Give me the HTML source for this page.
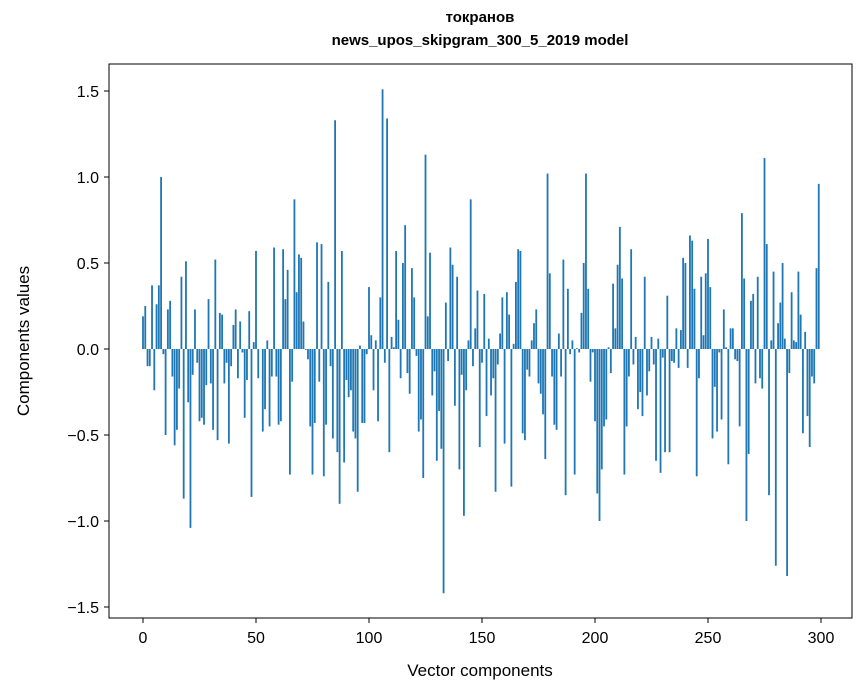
<!DOCTYPE html>
<html><head><meta charset="utf-8"><style>
body{margin:0;background:#fff}
svg{display:block;font-family:"Liberation Sans","DejaVu Sans",sans-serif}
</style></head><body>
<svg id="chart" width="867" height="696">
<rect width="867" height="696" fill="#fff"/>
<text x="480" y="28" text-anchor="middle" font-size="15" font-weight="bold" transform="translate(0,-6)">токранов</text>
<text x="480" y="51" text-anchor="middle" font-size="15" font-weight="bold" transform="translate(0,-6)">news_upos_skipgram_300_5_2019 model</text>
<g id="bars"></g>
<g id="axes"></g>
<rect x="109" y="64" width="743" height="554" fill="none" stroke="#000" stroke-width="1"/>
<text x="480" y="676" text-anchor="middle" font-size="17">Vector components</text>
<text transform="translate(29,341) rotate(-90)" text-anchor="middle" font-size="17">Components values</text>
</svg>
<script>
const values = [0.19,0.25,-0.1,-0.1,0.37,-0.24,0.26,0.37,1.0,-0.03,-0.5,0.23,0.28,-0.16,-0.56,-0.47,-0.23,
0.42,-0.87,0.51,-0.31,-1.04,-0.15,0.23,-0.08,-0.42,-0.4,-0.44,-0.21,0.29,-0.2,-0.47,0.52,-0.53,0.21,0.2,-0.2,-0.08,-0.55,-0.1,0.14,0.23,-0.17,0.16,-0.02,-0.4,-0.18,0.22,
-0.86,0.04,0.57,-0.17,0.0,-0.48,-0.35,0.05,-0.45,-0.16,0.59,-0.16,-0.44,-0.42,0.58,0.29,0.46,-0.73,-0.19,0.87,0.33,0.55,0.53,0.16,-0.005,-0.06,-0.45,-0.73,-0.43,0.62,-0.19,0.61,-0.74,-0.44,0.39,-0.1,-0.52,1.33,-0.6,-0.9,0.57,-0.66,-0.18,-0.28,-0.24,-0.48,-0.52,-0.83,0.02,-0.43,
-0.43,-0.03,0.36,0.08,-0.24,0.05,-0.42,0.3,1.51,-0.08,1.34,-0.6,0.07,0.01,0.57,0.17,-0.17,0.5,0.72,-0.14,-0.26,0.47,0.3,-0.04,-0.48,-0.41,-0.75,1.13,0.19,0.56,-0.27,-0.13,-0.65,-0.36,-0.58,-1.42,0.27,-0.07,0.59,0.49,-0.33,0.42,-0.7,-0.15,-0.97,-0.24,0.05,0.87,-0.1,0.12,0.34,-0.57,-0.08,
0.32,-0.39,0.06,-0.27,-0.17,-0.83,-0.09,0.09,0.3,-0.55,0.33,0.2,-0.8,0.03,0.39,0.58,0.57,-0.49,-0.53,-0.12,-0.16,0.05,0.15,0.23,-0.2,-0.26,-0.38,-0.64,1.02,0.44,-0.16,-0.44,-0.47,0.09,-0.16,0.52,-0.85,0.35,-0.03,0.05,-0.73,0.005,-0.02,0.21,0.5,1.02,0.35,
-0.19,-0.02,-0.42,-0.84,-1.0,-0.7,-0.45,-0.41,0.01,-0.14,0.38,0.12,0.49,0.71,0.41,-0.73,-0.45,-0.16,0.58,-0.09,0.07,-0.35,-0.25,-0.39,0.42,-0.27,-0.13,0.07,-0.09,-0.65,0.06,-0.72,-0.05,-0.6,0.31,-0.6,-0.07,-0.08,0.12,-0.11,0.11,0.53,0.5,-0.11,0.66,0.63,0.35,-0.74,-0.17,0.42,
0.08,0.44,0.64,0.36,-0.52,-0.22,-0.48,-0.02,-0.41,0.23,0.01,-0.67,0.12,0.12,-0.06,-0.07,-0.45,0.79,0.41,-1.0,-0.61,0.28,0.32,-0.2,0.42,-0.17,-0.23,1.11,0.61,-0.85,0.05,0.45,-1.26,0.15,0.27,0.5,0.06,-1.32,-0.14,0.33,0.05,0.04,0.45,0.2,-0.49,0.1,-0.39,-0.57,-0.16,-0.2,0.47,0.96];
const xTicks = [0,50,100,150,200,250,300];
const yTicks = [-1.5,-1.0,-0.5,0.0,0.5,1.0,1.5];
const yTickLabels = ["\u22121.5","\u22121.0","\u22120.5","0.0","0.5","1.0","1.5"];

const NS="http://www.w3.org/2000/svg";
const xs = v => 143 + v*(678/300);
const ys = v => 349 - v*172;
const bw = 0.8*(678/300);
const bars = document.getElementById('bars');
values.forEach((v,i)=>{
  const r=document.createElementNS(NS,'rect');
  const y0=Math.min(ys(0),ys(v)), h=Math.abs(ys(v)-ys(0));
  r.setAttribute('x',xs(i)-bw/2); r.setAttribute('y',y0);
  r.setAttribute('width',bw); r.setAttribute('height',Math.max(h,0.01));
  r.setAttribute('fill','#1f77b4');
  
  
  bars.appendChild(r);
});
const axes=document.getElementById('axes');
xTicks.forEach(t=>{
  const l=document.createElementNS(NS,'line');
  l.setAttribute('x1',xs(t));l.setAttribute('x2',xs(t));l.setAttribute('y1',618);l.setAttribute('y2',623);l.setAttribute('stroke','#000');
  
  
  axes.appendChild(l);
  const tx=document.createElementNS(NS,'text');
  tx.setAttribute('x',xs(t));tx.setAttribute('y',643);tx.setAttribute('text-anchor','middle');tx.setAttribute('font-size','16');
  tx.textContent=t;
  
  
  axes.appendChild(tx);
});
yTicks.forEach((t,i)=>{
  const l=document.createElementNS(NS,'line');
  l.setAttribute('x1',104);l.setAttribute('x2',109);l.setAttribute('y1',ys(t));l.setAttribute('y2',ys(t));l.setAttribute('stroke','#000');
  
  
  axes.appendChild(l);
  const tx=document.createElementNS(NS,'text');
  tx.setAttribute('x',99);tx.setAttribute('y',ys(t)+6);tx.setAttribute('text-anchor','end');tx.setAttribute('font-size','16');
  tx.textContent=yTickLabels[i];
  
  
  axes.appendChild(tx);
});
</script>
</body></html>
